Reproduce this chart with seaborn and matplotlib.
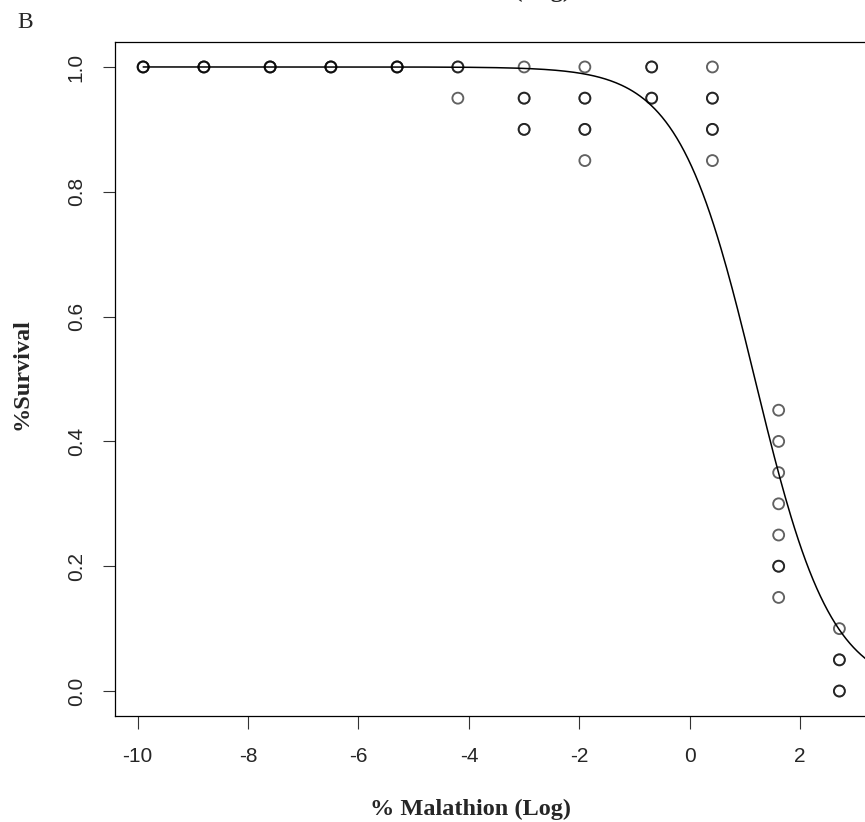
import numpy as np
import pandas as pd
import matplotlib
matplotlib.use("Agg")
import matplotlib.pyplot as plt
import seaborn as sns

# log concentrations (natural log of % malathion) and survival per replicate
log_dose = [
    -9.90, -9.90, -9.90,
    -8.80, -8.80, -8.80,
    -7.60, -7.60, -7.60,
    -6.50, -6.50, -6.50,
    -5.30, -5.30, -5.30,
    -4.20, -4.20, -4.20,
    -3.00, -3.00, -3.00, -3.00, -3.00,
    -1.90, -1.90, -1.90, -1.90, -1.90, -1.90,
    -0.69, -0.69, -0.69, -0.69,
    0.41, 0.41, 0.41, 0.41, 0.41, 0.41,
    1.61, 1.61, 1.61, 1.61, 1.61, 1.61, 1.61, 1.61,
    2.71, 2.71, 2.71, 2.71, 2.71,
]
survival = [
    1.0, 1.0, 1.0,
    1.0, 1.0, 1.0,
    1.0, 1.0, 1.0,
    1.0, 1.0, 1.0,
    1.0, 1.0, 1.0,
    1.0, 1.0, 0.95,
    1.0, 0.95, 0.95, 0.90, 0.90,
    1.0, 0.95, 0.95, 0.90, 0.90, 0.85,
    1.0, 1.0, 0.95, 0.95,
    1.0, 0.95, 0.95, 0.90, 0.90, 0.85,
    0.45, 0.40, 0.35, 0.30, 0.25, 0.20, 0.20, 0.15,
    0.10, 0.05, 0.05, 0.0, 0.0,
]

# fitted logistic curve (log scale)
fit_slope = 1.45
fit_mid = 1.18

x_ticks = [-10, -8, -6, -4, -2, 0, 2]
y_ticks = [0.0, 0.2, 0.4, 0.6, 0.8, 1.0]
y_tick_labels = ["0.0", "0.2", "0.4", "0.6", "0.8", "1.0"]

df = pd.DataFrame({"log_dose": log_dose, "survival": survival})

xs = np.linspace(-9.90, 3.4, 400)
curve = pd.DataFrame({"x": xs, "y": 1 / (1 + np.exp(fit_slope * (xs - fit_mid)))})

sns.set_style("white")

W, H = 865, 822
fig = plt.figure(figsize=(W / 100, H / 100), dpi=100)
ax = fig.add_axes([115 / W, 1 - 716 / H, (867 - 115) / W, (716 - 42) / H])

sns.lineplot(data=curve, x="x", y="y", color="black", linewidth=1.1, ax=ax)
sns.scatterplot(data=df, x="log_dose", y="survival", marker="o", s=62,
                facecolor="none", edgecolor=(0, 0, 0, 0.62), linewidth=1.35,
                ax=ax)

ax.set_xlim(-10.41, 3.21)
ax.set_ylim(-0.04, 1.04)

ax.set_xticks(x_ticks)
ax.set_xticklabels([str(t) for t in x_ticks], fontfamily="Liberation Sans", fontsize=15)
ax.set_yticks(y_ticks)
ax.set_yticklabels(y_tick_labels, fontfamily="Liberation Sans", fontsize=15,
                   rotation=90, va="center")
ax.tick_params(axis="both", direction="out", length=9, width=0.8, color="#333333",
               bottom=True, left=True)
ax.tick_params(axis="x", pad=13)
ax.tick_params(axis="y", pad=12)

for sp in ax.spines.values():
    sp.set_color("black")
    sp.set_linewidth(0.9)

ax.set_xlabel("% Malathion (Log)", fontfamily="Liberation Serif", fontweight="bold",
              fontsize=17.5)
ax.xaxis.set_label_coords((470.5 - 115) / 752, (716 - 815) / 674)
ax.xaxis.label.set_va("baseline")
ax.set_ylabel("%Survival", fontfamily="Liberation Serif", fontweight="bold",
              fontsize=17.5)
ax.yaxis.set_label_coords((22 - 115) / 752, (716 - 374) / 674)
ax.yaxis.label.set_va("center")

# panel letter and cut-off label of the panel above
fig.text(25 / W, 1 - 23 / H, "B", fontfamily="Liberation Serif", fontsize=17,
         ha="center", va="center")
fig.text(470.5 / W, 1 + 3.5 / H, "% Malathion (Log)", fontfamily="Liberation Serif",
         fontweight="bold", fontsize=17.5, ha="center", va="baseline")

fig.savefig("out.png", dpi=100)
